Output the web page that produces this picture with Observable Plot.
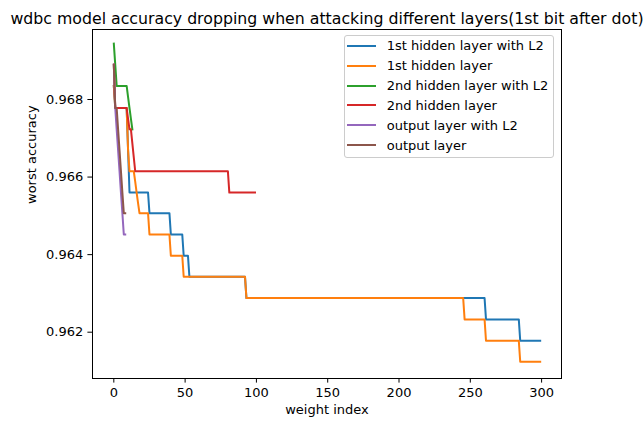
<!DOCTYPE html>
<html><head><meta charset="utf-8">
<script src="https://cdn.jsdelivr.net/npm/d3@7"></script>
<script src="https://cdn.jsdelivr.net/npm/@observablehq/plot@0.6"></script>
<style>
body{margin:0;background:#fff;}
#wrap{position:relative;width:643px;height:423px;font-family:"DejaVu Sans",sans-serif;}
#legend{position:absolute;left:344px;top:35px;width:210px;height:123px;box-sizing:border-box;border:1px solid #cccccc;border-radius:3px;background:rgba(255,255,255,0.8);}
.lg-line{position:absolute;height:2px;}
.lg-text{position:absolute;font-size:13px;line-height:16px;height:16px;white-space:nowrap;color:#000;}
</style></head><body><div id="wrap"></div>
<script>
const titleText = "wdbc model accuracy dropping when attacking different layers(1st bit after dot)";
const xLabel = "weight index";
const yLabel = "worst accuracy";
const xTicks = [0, 50, 100, 150, 200, 250, 300];
const yTicks = [0.962, 0.964, 0.966, 0.968];

const seriesNames = ["1st hidden layer with L2", "1st hidden layer", "2nd hidden layer with L2", "2nd hidden layer", "output layer with L2", "output layer"];
const seriesColors = ["#1f77b4", "#ff7f0e", "#2ca02c", "#d62728", "#9467bd", "#8c564b"];
const seriesLengths = [300, 300, 14, 100, 9, 9];

// run-length breakpoints: [first weight index, worst accuracy] held until next breakpoint
const hidden1L2 = [[0,0.96835],[1,0.96778],[10,0.96669],[11,0.9656],[25,0.96507],[40,0.96452],[49,0.96397],[53,0.96343],[93,0.96288],[261,0.96233],[285,0.96178]];
const hidden1 = [[0,0.96835],[1,0.96778],[10,0.96669],[11,0.96615],[15,0.96588],[16,0.9656],[17,0.96533],[18,0.96507],[25,0.96452],[40,0.96397],[49,0.96343],[93,0.96288],[246,0.96233],[261,0.96178],[285,0.96124]];
const hidden2L2 = [[0,0.96944],[1,0.9689],[2,0.96835],[10,0.96806],[11,0.96778],[12,0.9675],[13,0.96723]];
const hidden2 = [[0,0.9689],[1,0.96778],[10,0.9675],[11,0.96723],[13,0.96687],[14,0.96651],[15,0.96615],[81,0.9656]];
const outputL2 = [[0,0.9689],[1,0.96778],[2,0.96723],[3,0.96669],[4,0.96615],[5,0.9656],[6,0.96507],[7,0.96452]];
const output = [[0,0.9689],[1,0.96778],[3,0.96723],[4,0.96669],[5,0.96615],[6,0.9656],[7,0.96507]];
const seriesBreaks = [hidden1L2, hidden1, hidden2L2, hidden2, outputL2, output];

function expandRuns(breaks, len) {
  const out = [];
  let b = 0;
  for (let i = 0; i < len; i++) {
    while (b + 1 < breaks.length && breaks[b + 1][0] <= i) b++;
    out.push(breaks[b][1]);
  }
  return out;
}
const rows = [];
seriesNames.forEach((name, s) => {
  expandRuns(seriesBreaks[s], seriesLengths[s]).forEach((v, i) => rows.push({series: name, idx: i, value: v}));
});

const chart = Plot.plot({
  width: 643, height: 423,
  marginLeft: 92, marginRight: 82, marginTop: 29, marginBottom: 45,
  style: {fontFamily: "DejaVu Sans, sans-serif", fontSize: "13px", color: "#000", background: "#fff", overflow: "visible"},
  x: {domain: [-14.95, 313.95], ticks: xTicks, tickSize: 4.6, tickPadding: 4.6, label: null},
  y: {domain: [0.960806, 0.969805], ticks: yTicks, tickFormat: d3.format(".3f"), tickSize: 4.6, tickPadding: 4.6, label: null},
  color: {domain: seriesNames, range: seriesColors},
  marks: [
    Plot.line(rows, {x: "idx", y: "value", z: "series", stroke: "series", strokeWidth: 2, strokeLinecap: "square", strokeLinejoin: "round"}),
    Plot.frame({stroke: "#000", strokeWidth: 1}),
    Plot.text([titleText], {frameAnchor: "top", dy: -16.2, fontSize: 15.75, fill: "#000"}),
    Plot.text([xLabel], {frameAnchor: "bottom", dy: 35, fontSize: 13, fill: "#000"}),
    Plot.text([yLabel], {frameAnchor: "left", dx: -60.7, rotate: -90, fontSize: 13, fill: "#000"})
  ]
});
const wrap = document.getElementById("wrap");
wrap.appendChild(chart);

const legend = document.createElement("div");
legend.id = "legend";
wrap.appendChild(legend);
seriesNames.forEach((name, i) => {
  const y = 45.7 + 19.9 * i;
  const ln = document.createElement("div");
  ln.className = "lg-line";
  ln.style.left = "347.3px"; ln.style.width = "28.7px"; ln.style.top = (y - 1) + "px";
  ln.style.background = seriesColors[i];
  wrap.appendChild(ln);
  const tx = document.createElement("div");
  tx.className = "lg-text";
  tx.style.left = "386.7px"; tx.style.top = (y - 7.5) + "px";
  tx.textContent = name;
  wrap.appendChild(tx);
});
</script>
</body></html>
